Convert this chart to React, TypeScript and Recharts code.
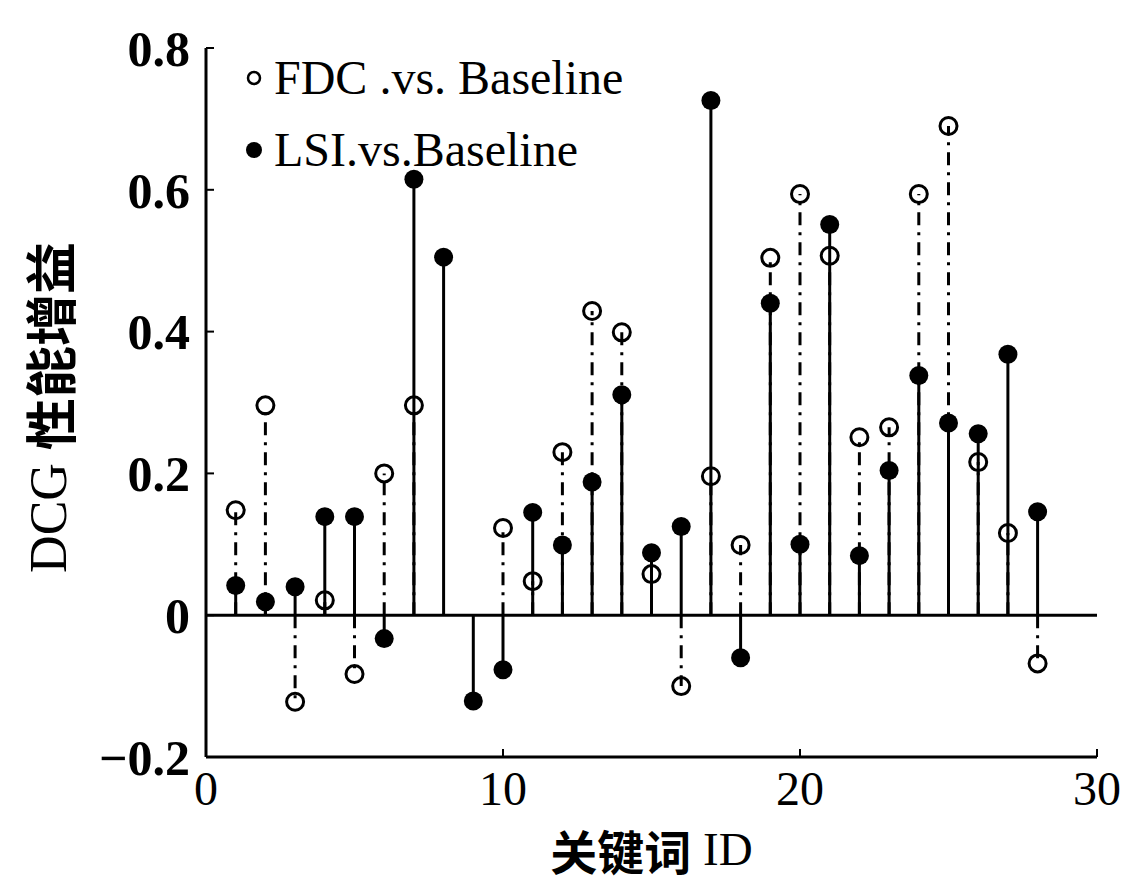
import React from "react";
import { ComposedChart, Scatter, XAxis, YAxis, ReferenceLine } from "recharts";

// 关键词 ID
const keywordIds = [1, 2, 3, 4, 5, 6, 7, 8, 9, 10, 11, 12, 13, 14, 15, 16, 17, 18, 19, 20, 21, 22, 23, 24, 25, 26, 27, 28];
// DCG gain, FDC vs baseline (open circles, dash-dot stems); ids 8, 9 have no visible point
const fdcGain: (number | null)[] = [
  0.148, 0.296, -0.122, 0.021, -0.083, 0.2, 0.296, null, null, 0.123, 0.048, 0.23, 0.429, 0.399,
  0.058, -0.1, 0.196, 0.099, 0.504, 0.594, 0.507, 0.251, 0.265, 0.594, 0.69, 0.216, 0.116, -0.068,
];
// DCG gain, LSI vs baseline (filled circles, solid stems)
const lsiGain = [
  0.042, 0.019, 0.04, 0.139, 0.139, -0.033, 0.615, 0.505, -0.121, -0.077, 0.145, 0.099, 0.188, 0.311,
  0.088, 0.125, 0.726, -0.06, 0.44, 0.1, 0.551, 0.084, 0.204, 0.338, 0.271, 0.256, 0.368, 0.146,
];
const xTicks = [0, 10, 20, 30];
const yTicks = [-0.2, 0, 0.2, 0.4, 0.6, 0.8];
const seriesNames = ["FDC .vs. Baseline", "LSI.vs.Baseline"];

const fdcPoints = keywordIds
  .map((id, i) => ({ id, gain: fdcGain[i] }))
  .filter((p) => p.gain !== null) as { id: number; gain: number }[];
const lsiPoints = keywordIds.map((id, i) => ({ id, gain: lsiGain[i] }));

const serif = "'Liberation Serif', 'Times New Roman', serif";
const cjk = "'Noto Sans CJK SC', sans-serif";

const OpenDot = (props: any) => (
  <circle cx={props.cx} cy={props.cy} r={8.5} fill="none" stroke="#000" strokeWidth={3} />
);
const FilledDot = (props: any) => <circle cx={props.cx} cy={props.cy} r={9.5} fill="#000" />;

const fmtY = (v: number) => (v === 0 ? "0" : v < 0 ? "\u2212" + Math.abs(v).toFixed(1) : v.toFixed(1));

const YTitle = (props: any) => {
  const { x, y, height } = props.viewBox;
  const cx = x + 48;
  const cy = y + height / 2 + 5;
  return (
    <text
      x={cx}
      y={cy}
      transform={`rotate(-90 ${cx} ${cy})`}
      textAnchor="middle"
      dominantBaseline="central"
      fontSize={52}
      fontFamily={serif}
      fill="#000"
    >
      <tspan>DCG </tspan>
      <tspan fontFamily={cjk} fontWeight="bold">性能增益</tspan>
    </text>
  );
};

const XTitle = (props: any) => {
  const { x, y, width } = props.viewBox;
  return (
    <text x={x + width / 2} y={y + 92} textAnchor="middle" dominantBaseline="central" fontSize={47} fontFamily={serif} fill="#000">
      <tspan fontFamily={cjk} fontWeight="bold">关键词</tspan>
      <tspan> ID</tspan>
    </text>
  );
};

const LegendBox = () => (
  <div
    style={{
      position: "absolute",
      left: 242,
      top: 42,
      fontFamily: serif,
      fontSize: 48,
      lineHeight: "72px",
      color: "#000",
    }}
  >
    {seriesNames.map((name, i) => (
      <div key={name} style={{ display: "flex", alignItems: "center", whiteSpace: "nowrap" }}>
        <svg width={24} height={24} style={{ marginRight: 8 }}>
          {i === 0 ? (
            <circle cx={12} cy={12} r={6} fill="none" stroke="#000" strokeWidth={2.5} />
          ) : (
            <circle cx={12} cy={12} r={8} fill="#000" />
          )}
        </svg>
        <span>{name}</span>
      </div>
    ))}
  </div>
);

export default function App() {
  return (
    <div style={{ position: "relative", width: 1125, height: 879, background: "#fff", overflow: "hidden" }}>
      <style>{`body{margin:0;}`}</style>
      <ComposedChart width={1125} height={879} margin={{ top: 48, right: 28, bottom: 0, left: 0 }}>
        <XAxis
          type="number"
          dataKey="id"
          domain={[0, 30]}
          ticks={xTicks}
          allowDataOverflow
          height={122}
          axisLine={{ stroke: "#000", strokeWidth: 3 }}
          tickLine={{ stroke: "#000", strokeWidth: 2 }}
          tickSize={-8}
          tickMargin={22}
          tick={{ fill: "#000", fontSize: 48, fontFamily: serif }}
          label={<XTitle />}
        />
        <YAxis
          type="number"
          domain={[-0.2, 0.8]}
          ticks={yTicks}
          allowDataOverflow
          width={206}
          axisLine={{ stroke: "#000", strokeWidth: 3 }}
          tickLine={{ stroke: "#000", strokeWidth: 2 }}
          tickSize={-8}
          tickMargin={24}
          tickFormatter={fmtY}
          tick={{ fill: "#000", fontSize: 50, fontFamily: serif, fontWeight: "bold" }}
          label={<YTitle />}
        />
        <ReferenceLine y={0} stroke="#000" strokeWidth={3} />
        {fdcPoints.map((p) => (
          <ReferenceLine
            key={"f" + p.id}
            segment={[{ x: p.id, y: 0 }, { x: p.id, y: p.gain }]}
            stroke="#000"
            strokeWidth={3}
            strokeDasharray="13 7 3 7"
          />
        ))}
        {lsiPoints.map((p) => (
          <ReferenceLine
            key={"l" + p.id}
            segment={[{ x: p.id, y: 0 }, { x: p.id, y: p.gain }]}
            stroke="#000"
            strokeWidth={3}
          />
        ))}
        <Scatter name={seriesNames[0]} data={fdcPoints} dataKey="gain" shape={<OpenDot />} isAnimationActive={false} />
        <Scatter name={seriesNames[1]} data={lsiPoints} dataKey="gain" shape={<FilledDot />} isAnimationActive={false} />
      </ComposedChart>
      <LegendBox />
    </div>
  );
}
